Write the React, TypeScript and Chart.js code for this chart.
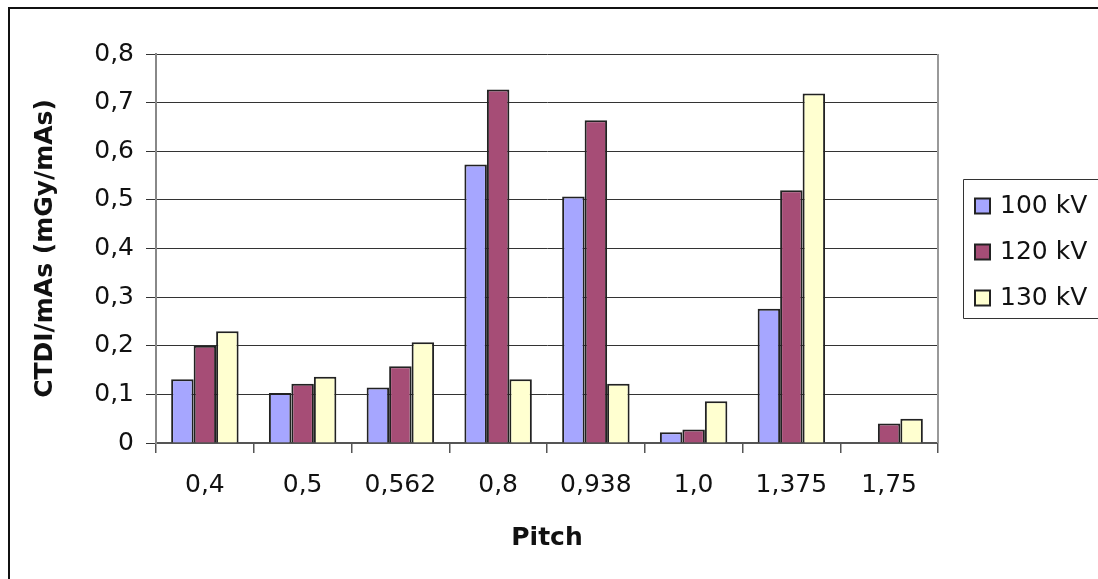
import React, { useEffect, useRef } from "react";
import { Chart, registerables } from "chart.js";

Chart.register(...registerables);

// Pitch values along the x axis
const pitchLabels = ["0,4", "0,5", "0,562", "0,8", "0,938", "1,0", "1,375", "1,75"];

// CTDI/mAs (mGy/mAs) per tube voltage
const kv100 = [0.131, 0.103, 0.114, 0.573, 0.507, 0.022, 0.276, 0];
const kv120 = [0.2, 0.122, 0.158, 0.727, 0.664, 0.028, 0.52, 0.04];
const kv130 = [0.23, 0.136, 0.207, 0.131, 0.122, 0.086, 0.719, 0.05];

const seriesNames = ["100 kV", "120 kV", "130 kV"];
const seriesColors = ["#A6A6FF", "#A64D76", "#FFFFD0"];

const yTicks = [0, 0.1, 0.2, 0.3, 0.4, 0.5, 0.6, 0.7, 0.8];

const FONT = "'DejaVu Sans', sans-serif";

const frameAndLegend = {
  id: "frameAndLegend",
  afterDraw(chart: any) {
    const { ctx, chartArea } = chart;
    ctx.save();
    // outer chart frame (left and top edges)
    ctx.fillStyle = "#111";
    ctx.fillRect(8, 7, 2, 572);
    ctx.fillRect(8, 7, 1090, 2);

    // right edge of the plot area
    ctx.strokeStyle = "#999";
    ctx.lineWidth = 2;
    ctx.beginPath();
    ctx.moveTo(chartArea.right, chartArea.top);
    ctx.lineTo(chartArea.right, chartArea.bottom);
    ctx.stroke();

    // legend box
    const lx = 963.5;
    const ly = 179.5;
    const lb = 318.5;
    ctx.strokeStyle = "#333";
    ctx.lineWidth = 1;
    ctx.beginPath();
    ctx.moveTo(1100, ly);
    ctx.lineTo(lx, ly);
    ctx.lineTo(lx, lb);
    ctx.lineTo(1100, lb);
    ctx.stroke();

    ctx.font = `25px ${FONT}`;
    ctx.textBaseline = "middle";
    ctx.textAlign = "left";
    seriesNames.forEach((name, i) => {
      const cy = 206 + i * 46;
      ctx.fillStyle = seriesColors[i];
      ctx.fillRect(975, cy - 7.5, 15, 15);
      ctx.strokeStyle = "#222";
      ctx.lineWidth = 2;
      ctx.strokeRect(975, cy - 7.5, 15, 15);
      ctx.fillStyle = "#111";
      ctx.fillText(name, 1000, cy);
    });
    ctx.restore();
  },
};

export default function App() {
  const canvasRef = useRef<HTMLCanvasElement | null>(null);

  useEffect(() => {
    const canvas = canvasRef.current;
    if (!canvas) return;
    const series = [kv100, kv120, kv130];
    const chart = new Chart(canvas, {
      type: "bar",
      data: {
        labels: pitchLabels,
        datasets: series.map((data, i) => ({
          label: seriesNames[i],
          data,
          backgroundColor: seriesColors[i],
          borderColor: "#222",
          borderWidth: 2,
          categoryPercentage: 0.69,
          barPercentage: 1,
        })),
      },
      options: {
        responsive: false,
        animation: false,
        devicePixelRatio: 1,
        layout: { padding: { top: 54, right: 160, left: 0, bottom: 0 } },
        plugins: {
          legend: { display: false },
          tooltip: { enabled: false },
        },
        scales: {
          x: {
            afterFit: (s: any) => {
              s.height = 136;
            },
            grid: {
              display: true,
              drawOnChartArea: false,
              drawTicks: true,
              tickLength: 10,
              color: "#555",
              lineWidth: 1.5,
              offset: true,
            },
            border: { display: true, color: "#555", width: 2 },
            ticks: {
              color: "#111",
              font: { family: FONT, size: 25 },
              padding: 17,
              maxRotation: 0,
            },
            title: {
              display: true,
              text: "Pitch",
              color: "#111",
              font: { family: FONT, size: 25, weight: "bold" },
              padding: { top: 0, bottom: 26 },
            },
          },
          y: {
            min: 0,
            max: 0.8,
            afterFit: (s: any) => {
              s.width = 156;
            },
            afterBuildTicks: (s: any) => {
              s.ticks = yTicks.map((v) => ({ value: v }));
            },
            grid: {
              color: "#333",
              lineWidth: 1,
              tickLength: 10,
              drawTicks: true,
            },
            border: { display: true, color: "#888", width: 2 },
            ticks: {
              color: "#111",
              font: { family: FONT, size: 25 },
              padding: 12,
              callback: (v: any) => (Number(v) === 0 ? "0" : Number(v).toFixed(1).replace(".", ",")),
            },
            title: {
              display: true,
              text: "CTDI/mAs (mGy/mAs)",
              color: "#111",
              font: { family: FONT, size: 25, weight: "bold" },
              padding: { top: 30, bottom: 0 },
            },
          },
        },
      },
      plugins: [frameAndLegend],
    });
    return () => chart.destroy();
  }, []);

  return (
    <div style={{ position: "absolute", left: 0, top: 0, width: 1098, height: 579, overflow: "hidden", background: "#fff" }}>
      <canvas ref={canvasRef} width={1098} height={579} style={{ display: "block" }} />
    </div>
  );
}
